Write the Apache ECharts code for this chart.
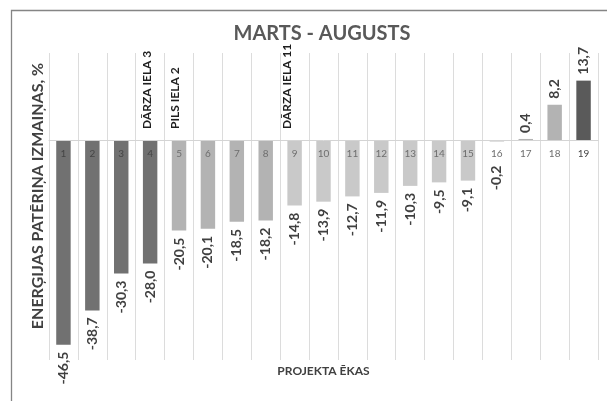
<!DOCTYPE html>
<html><head><meta charset="utf-8">
<script src="https://cdn.jsdelivr.net/npm/echarts@6/dist/echarts.min.js"></script>
<style>html,body{margin:0;padding:0;background:#fff}#c{width:607px;height:401px}</style>
</head><body><div id="c"></div>
<script>
// ---- data ----
const categories = ['1','2','3','4','5','6','7','8','9','10','11','12','13','14','15','16','17','18','19'];
const values = [-46.5, -38.7, -30.3, -28.0, -20.5, -20.1, -18.5, -18.2, -14.8, -13.9, -12.7, -11.9, -10.3, -9.5, -9.1, -0.2, 0.4, 8.2, 13.7];
const annotationCats = ['4', '5', '9'];
const annotationTexts = ['DĀRZA IELA 3', 'PILS IELA 2', 'DĀRZA IELA 11'];
const titleText = 'MARTS - AUGUSTS';
const yAxisName = 'ENERĢIJAS PATĒRIŅA IZMAIŅAS, %';
const xAxisName = 'PROJEKTA ĒKAS';

// ---- styles ----
const DARK = '#717171', DARKER = '#5a5a5a', MID = '#b3b3b3', LIGHT = '#c9c9c9';
const barColors = [DARK, DARK, DARK, DARK, MID, MID, MID, MID, LIGHT, LIGHT, LIGHT, LIGHT, LIGHT, LIGHT, LIGHT, LIGHT, MID, MID, DARKER];
const FONT = 'Lato';
const GRID = {left: 49, right: 9, top: 53, bottom: 41};

const chart = echarts.init(document.getElementById('c'), null, {renderer: 'canvas'});

const seriesData = values.map((v, i) => ({
  value: v,
  itemStyle: {color: barColors[i]},
  label: v < 0
    ? {position: 'bottom', align: 'right', verticalAlign: 'middle', distance: (Math.abs(v) < 1 ? 24 : 7)}
    : {position: 'top', align: 'left', verticalAlign: 'middle', distance: 6}
}));

chart.setOption({
  animation: false,
  backgroundColor: '#ffffff',
  grid: GRID,
  xAxis: {
    type: 'category',
    data: categories,
    z: 5,
    position: 'bottom',
    offset: 0,
    axisLine: {onZero: false, lineStyle: {color: '#d4d4d4', width: 1}},
    axisTick: {show: false},
    axisLabel: {margin: 8, fontSize: 10, fontFamily: FONT, interval: 0,
      color: (val, idx) => (barColors[idx] === DARK || barColors[idx] === DARKER) ? '#454545' : '#6e6e6e'},
    splitLine: {show: true, interval: 0, lineStyle: {color: '#dcdcdc', width: 1}}
  },
  yAxis: {
    type: 'value',
    min: -50, max: 20,
    show: false
  },
  series: [{
    type: 'bar',
    data: seriesData,
    barWidth: '50%',
    label: {
      show: true,
      rotate: 90,
      fontFamily: FONT,
      fontWeight: 'bold',
      fontSize: 14,
      color: '#404040',
      formatter: p => p.value.toFixed(1).replace('.', ',')
    }
  }]
});

// move the category axis (line + labels) up to the zero line
const zeroY = chart.convertToPixel({yAxisIndex: 0}, 0);
const gridBottomY = 401 - GRID.bottom;
chart.setOption({xAxis: {offset: -(gridBottomY - zeroY)}});

const graphics = [
  {type: 'rect', id: 'frame', silent: true, z: 0,
   shape: {x: 11.5, y: 10.5, width: 700, height: 500},
   style: {fill: null, stroke: '#858585', lineWidth: 1.3}},
  {type: 'text', id: 'title', x: 322, y: 34,
   style: {text: titleText, fontFamily: FONT, fontWeight: 'bold', fontSize: 20, fill: '#595959',
           textAlign: 'center', textVerticalAlign: 'middle'}},
  {type: 'text', id: 'yname', x: 38, y: 196, rotation: Math.PI / 2,
   style: {text: yAxisName, fontFamily: FONT, fontWeight: 'bold', fontSize: 16, fill: '#404040',
           textAlign: 'center', textVerticalAlign: 'middle'}},
  {type: 'text', id: 'xname', x: 323.5, y: 371.5,
   style: {text: xAxisName, fontFamily: FONT, fontWeight: 'bold', fontSize: 12, fill: '#404040',
           textAlign: 'center', textVerticalAlign: 'middle'}}
];
const annOffsets = [-3, -4, -7];
annotationCats.forEach((c, i) => {
  const px = chart.convertToPixel({xAxisIndex: 0}, c);
  graphics.push({type: 'text', id: 'ann' + i, x: px + annOffsets[i], y: 129, rotation: Math.PI / 2,
    style: {text: annotationTexts[i], fontFamily: FONT, fontWeight: 'bold', fontSize: 12, fill: '#1e1e1e',
            textAlign: 'left', textVerticalAlign: 'middle'}});
});
chart.setOption({graphic: graphics});
</script>
</body></html>
